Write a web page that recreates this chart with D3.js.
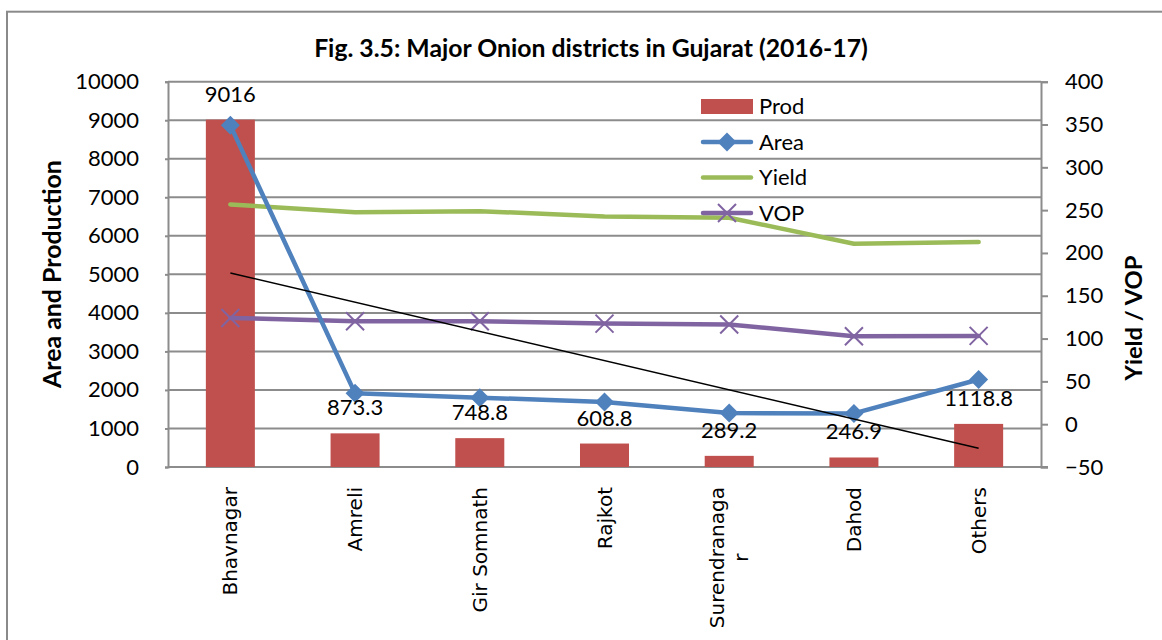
<!DOCTYPE html>
<html>
<head>
<meta charset="utf-8">
<script src="https://cdnjs.cloudflare.com/ajax/libs/d3/7.8.5/d3.min.js"></script>
<style>
  html, body { margin: 0; padding: 0; background: #fff; }
  svg { display: block; }
</style>
</head>
<body>
<svg id="chart" width="1162" height="640"></svg>
<script>
// ---- data ----
const categories = ["Bhavnagar", "Amreli", "Gir Somnath", "Rajkot", "Surendranagar", "Dahod", "Others"];
const categoryLines = [["Bhavnagar"], ["Amreli"], ["Gir Somnath"], ["Rajkot"], ["Surendranaga", "r"], ["Dahod"], ["Others"]];
const prod = [9016, 873.3, 748.8, 608.8, 289.2, 246.9, 1118.8];
const area = [349, 36, 31, 26, 13, 12.6, 52.2];
const yieldV = [256.6, 247.6, 248.8, 242.6, 241.1, 210.8, 212.7];
const vop = [124.1, 120.2, 120.2, 117.5, 116.4, 102.7, 103.1];
const leftTicks = [0, 1000, 2000, 3000, 4000, 5000, 6000, 7000, 8000, 9000, 10000];
const rightTicks = [-50, 0, 50, 100, 150, 200, 250, 300, 350, 400];
const seriesNames = ["Prod", "Area", "Yield", "VOP"];
const titleText = "Fig. 3.5: Major Onion districts in Gujarat (2016-17)";
const leftTitle = "Area and Production";
const rightTitle = "Yield / VOP";

// ---- layout ----
const svg = d3.select("#chart");
const plot = { left: 168, right: 1041, top: 81.7, bottom: 467 };
const colors = { Prod: "#C0504D", Area: "#4F81BD", Yield: "#9BBB59", VOP: "#8064A2" };
const grid = "#8c8c8c";
const fontMain = "Lato, 'Open Sans', sans-serif";
const fontCat = "'DejaVu Sans', Verdana, sans-serif";

// outer border
svg.append("rect").attr("x", 7).attr("y", 11.7).attr("width", 1200).attr("height", 700)
  .attr("fill", "none").attr("stroke", "#8a8a8a").attr("stroke-width", 2);

const x = d3.scaleBand().domain(categories).range([plot.left, plot.right])
  .paddingInner(0.607).paddingOuter(0.3035);
const xc = d => x(d) + x.bandwidth() / 2;
const yL = d3.scaleLinear().domain([0, 10000]).range([plot.bottom, plot.top]);
const yR = d3.scaleLinear().domain([-50, 400]).range([plot.bottom, plot.top]);

// gridlines
svg.append("g").selectAll("line").data(leftTicks.filter(t => t > 0)).join("line")
  .attr("x1", plot.left).attr("x2", plot.right)
  .attr("y1", d => yL(d)).attr("y2", d => yL(d))
  .attr("stroke", grid).attr("stroke-width", 2);

// left axis
const gL = svg.append("g").attr("transform", `translate(${plot.left},0)`)
  .call(d3.axisLeft(yL).tickValues(leftTicks).tickSize(3).tickPadding(26).tickFormat(d3.format("d")));
gL.select(".domain").attr("stroke", grid).attr("stroke-width", 2);
gL.selectAll(".tick line").attr("stroke", grid).attr("stroke-width", 2);
gL.selectAll("text").attr("font-family", fontMain).attr("font-size", 22).attr("fill", "#000");

// right axis
const gR = svg.append("g").attr("transform", `translate(${plot.right},0)`)
  .call(d3.axisRight(yR).tickValues(rightTicks).tickSize(7).tickPadding(17).tickFormat(d3.format("d")));
gR.select(".domain").attr("stroke", grid).attr("stroke-width", 2);
gR.selectAll(".tick line").attr("stroke", grid).attr("stroke-width", 2);
gR.selectAll("text").attr("font-family", fontMain).attr("font-size", 22).attr("fill", "#000");

// bottom axis line
svg.append("line").attr("x1", plot.left).attr("x2", plot.right + 7)
  .attr("y1", plot.bottom).attr("y2", plot.bottom)
  .attr("stroke", grid).attr("stroke-width", 2);

// bars
svg.append("g").selectAll("rect").data(prod).join("rect")
  .attr("x", (d, i) => x(categories[i]))
  .attr("width", x.bandwidth())
  .attr("y", d => yL(d))
  .attr("height", d => yL(0) - yL(d))
  .attr("fill", colors.Prod);

// category labels (block end-aligned at the axis, lines centred within block)
const catG = svg.append("g");
categories.forEach((c, i) => {
  const lines = categoryLines[i];
  const g = catG.append("g")
    .attr("transform", `translate(${xc(c)},${plot.bottom + 20}) rotate(-90)`);
  const nL = lines.length;
  const texts = lines.map((ln, j) => g.append("text")
    .attr("text-anchor", "middle")
    .attr("y", 0)
    .attr("dy", `${0.35 + (j - (nL - 1) / 2) * 1.2}em`)
    .attr("font-family", fontCat).attr("font-size", 20).attr("fill", "#000")
    .text(ln));
  const maxW = d3.max(texts, t => t.node().getComputedTextLength());
  texts.forEach(t => t.attr("x", -maxW / 2));
});

// line generator
const lineR = d3.line().x((d, i) => xc(categories[i])).y(d => yR(d));

// Yield
svg.append("path").datum(yieldV).attr("d", lineR)
  .attr("fill", "none").attr("stroke", colors.Yield).attr("stroke-width", 4.5)
  .attr("stroke-linejoin", "round").attr("stroke-linecap", "round");

// VOP
svg.append("path").datum(vop).attr("d", lineR)
  .attr("fill", "none").attr("stroke", colors.VOP).attr("stroke-width", 4.5)
  .attr("stroke-linejoin", "round").attr("stroke-linecap", "round");
function xMark(g, cx, cy, r, color) {
  g.append("path").attr("d", `M${cx - r},${cy - r}L${cx + r},${cy + r}M${cx - r},${cy + r}L${cx + r},${cy - r}`)
    .attr("stroke", color).attr("stroke-width", 2).attr("fill", "none");
}
const vopG = svg.append("g");
vop.forEach((v, i) => xMark(vopG, xc(categories[i]), yR(v), 9, colors.VOP));

// Area
svg.append("path").datum(area).attr("d", lineR)
  .attr("fill", "none").attr("stroke", colors.Area).attr("stroke-width", 4.5)
  .attr("stroke-linejoin", "round").attr("stroke-linecap", "round");
function diamond(g, cx, cy, r, color) {
  g.append("path").attr("d", `M${cx},${cy - r}L${cx + r},${cy}L${cx},${cy + r}L${cx - r},${cy}Z`)
    .attr("fill", color);
}
const areaG = svg.append("g");
area.forEach((v, i) => diamond(areaG, xc(categories[i]), yR(v), 9.5, colors.Area));

// linear trendline of Area (least squares)
const n = area.length;
const xs = d3.range(n);
const mx = d3.mean(xs), my = d3.mean(area);
const slope = d3.sum(xs, i => (i - mx) * (area[i] - my)) / d3.sum(xs, i => (i - mx) ** 2);
const icpt = my - slope * mx;
svg.append("line")
  .attr("x1", xc(categories[0])).attr("y1", yR(icpt))
  .attr("x2", xc(categories[n - 1])).attr("y2", yR(icpt + slope * (n - 1)))
  .attr("stroke", "#000").attr("stroke-width", 1.6);

// data labels for Prod
svg.append("g").selectAll("text").data(prod).join("text")
  .attr("x", (d, i) => xc(categories[i]))
  .attr("y", d => yL(d) - 18)
  .attr("text-anchor", "middle")
  .attr("font-family", fontMain).attr("font-size", 22).attr("fill", "#000")
  .text(d => d3.format("")(d));

// legend
const lg = svg.append("g");
const lx0 = 701, lx1 = 753, ly0 = 106.5, lstep = 35.5;
seriesNames.forEach((s, i) => {
  const yy = ly0 + i * lstep;
  if (s === "Prod") {
    lg.append("rect").attr("x", lx0).attr("y", yy - 7.5).attr("width", lx1 - lx0).attr("height", 15).attr("fill", colors.Prod);
  } else {
    lg.append("line").attr("x1", lx0 + 2).attr("x2", lx1 - 2).attr("y1", yy).attr("y2", yy)
      .attr("stroke", colors[s]).attr("stroke-width", 4.5).attr("stroke-linecap", "round");
    if (s === "Area") diamond(lg, (lx0 + lx1) / 2, yy, 9.5, colors.Area);
    if (s === "VOP") xMark(lg, (lx0 + lx1) / 2, yy, 9, colors.VOP);
  }
  lg.append("text").attr("x", 759).attr("y", yy).attr("dy", "0.36em")
    .attr("font-family", fontMain).attr("font-size", 22).attr("fill", "#000").text(s);
});

// title
const title = svg.append("text").attr("x", 591).attr("y", 57).attr("text-anchor", "middle")
  .attr("font-family", fontMain).attr("font-weight", "bold").attr("font-size", 21).attr("fill", "#000")
  .text(titleText);
const tw = title.node().getComputedTextLength();
title.attr("font-size", 21 * 554 / tw);

// axis titles
const lt = svg.append("text").attr("transform", "translate(52,274) rotate(-90)")
  .attr("text-anchor", "middle").attr("dy", "0.36em")
  .attr("font-family", fontMain).attr("font-weight", "bold").attr("font-size", 21).attr("fill", "#000")
  .text(leftTitle);
const ltw = lt.node().getComputedTextLength();
lt.attr("font-size", 21 * 228 / ltw);

const rt = svg.append("text").attr("transform", "translate(1133,318) rotate(-90)")
  .attr("text-anchor", "middle").attr("dy", "0.36em")
  .attr("font-family", fontMain).attr("font-weight", "bold").attr("font-size", 21).attr("fill", "#000")
  .text(rightTitle);
const rtw = rt.node().getComputedTextLength();
rt.attr("font-size", 21 * 125 / rtw);
</script>
</body>
</html>
